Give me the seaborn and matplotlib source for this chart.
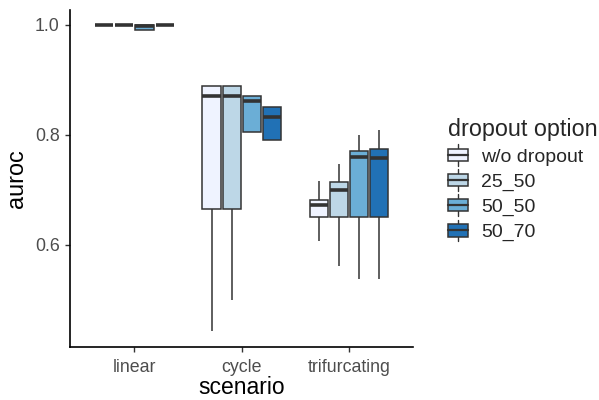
import numpy as np
import pandas as pd
import matplotlib
matplotlib.use("Agg")
import matplotlib.pyplot as plt
from matplotlib.patches import Rectangle, Patch
from matplotlib.lines import Line2D
from matplotlib.legend_handler import HandlerBase
import seaborn as sns

scenarios = ["linear", "cycle", "trifurcating"]
options = ["w/o dropout", "25_50", "50_50", "50_70"]
colors = ["#EFF3FF", "#BDD7E7", "#6BAED6", "#2171B5"]

# five-number summaries (min, q1, median, q3, max) per scenario, one list per dropout option
wo_dropout = [[1.000, 1.000, 1.000, 1.000, 1.000],
              [0.444, 0.665, 0.871, 0.889, 0.889],
              [0.607, 0.651, 0.673, 0.681, 0.716]]
drop_25_50 = [[1.000, 1.000, 1.000, 1.000, 1.000],
              [0.500, 0.665, 0.871, 0.889, 0.889],
              [0.561, 0.651, 0.699, 0.714, 0.747]]
drop_50_50 = [[0.990, 0.990, 0.998, 1.000, 1.000],
              [0.805, 0.805, 0.861, 0.870, 0.870],
              [0.538, 0.651, 0.759, 0.770, 0.799]]
drop_50_70 = [[1.000, 1.000, 1.000, 1.000, 1.000],
              [0.791, 0.791, 0.832, 0.851, 0.851],
              [0.538, 0.651, 0.758, 0.774, 0.809]]

rows = []
for opt, summaries in zip(options, [wo_dropout, drop_25_50, drop_50_50, drop_50_70]):
    for scen, vals in zip(scenarios, summaries):
        for v in vals:
            rows.append({"scenario": scen, "auroc": v, "dropout option": opt})
df = pd.DataFrame(rows)

sns.set_style("ticks")
plt.rcParams["font.family"] = ["Liberation Sans", "DejaVu Sans"]

fig = plt.figure(figsize=(5.99, 4.00), dpi=100)
ax = fig.add_axes([0.117, 0.1325, 0.573, 0.8425])

sns.boxplot(data=df, x="scenario", y="auroc", hue="dropout option",
            order=scenarios, hue_order=options, palette=colors,
            saturation=1, whis=(0, 100), width=0.75, gap=0.1,
            showcaps=False, fliersize=0, linecolor="#333333",
            linewidth=1.1, medianprops=dict(linewidth=2.6, color="#333333"),
            legend=False, ax=ax)

ax.set_xlim(-0.6, 2.6)
ax.set_ylim(0.4145, 1.027)
ax.set_yticks([0.6, 0.8, 1.0])
ax.set_yticklabels(["0.6", "0.8", "1.0"])
ax.tick_params(axis="both", colors="#333333", labelcolor="#4D4D4D",
               labelsize=12.8, length=3.5, width=1.0, pad=4)
ax.tick_params(axis="x", pad=5)
for s in ["top", "right"]:
    ax.spines[s].set_visible(False)
for s in ["left", "bottom"]:
    ax.spines[s].set_color("black")
    ax.spines[s].set_linewidth(1.2)
ax.set_xlabel("scenario", fontsize=16.5, color="black", labelpad=0)
ax.set_ylabel("auroc", fontsize=16.8, color="black", labelpad=5)


class BoxKeyHandler(HandlerBase):
    def create_artists(self, legend, orig_handle, xdescent, ydescent,
                       width, height, fontsize, trans):
        x0, y0 = -xdescent, -ydescent
        cx = x0 + width / 2
        box = Rectangle((x0, y0), width, height,
                        facecolor=orig_handle.get_facecolor(),
                        edgecolor="#333333", linewidth=1.1, transform=trans)
        med = Line2D([x0, x0 + width], [y0 + height / 2] * 2,
                     color="#333333", linewidth=1.6, transform=trans)
        w_lo = Line2D([cx, cx], [y0 - height * 0.35, y0],
                      color="#333333", linewidth=1.0, transform=trans)
        w_hi = Line2D([cx, cx], [y0 + height, y0 + height * 1.35],
                      color="#333333", linewidth=1.0, transform=trans)
        return [w_lo, w_hi, box, med]


handles = [Patch(facecolor=c, edgecolor="#333333") for c in colors]
leg = fig.legend(handles, options, title="dropout option",
                 loc="upper left", bbox_to_anchor=(0.748, 0.705),
                 frameon=False, fontsize=14, title_fontsize=16.8,
                 handlelength=1.03, handleheight=0.62, labelspacing=0.4,
                 handletextpad=0.67, alignment="left", borderpad=0,
                 borderaxespad=0,
                 handler_map={Patch: BoxKeyHandler()})

fig.savefig("out.png", dpi=100)
